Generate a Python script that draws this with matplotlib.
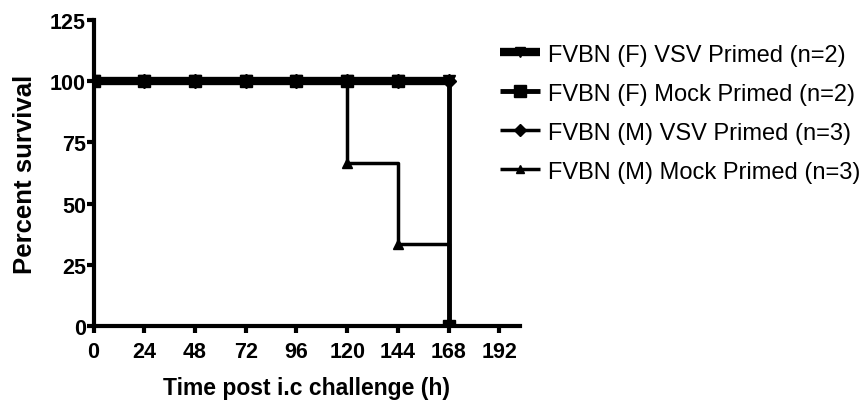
import matplotlib
matplotlib.use('Agg')
import matplotlib.pyplot as plt

hours = [0, 24, 48, 72, 96, 120, 144, 168]
labels = ['FVBN (F) VSV Primed (n=2)', 'FVBN (F) Mock Primed (n=2)',
          'FVBN (M) VSV Primed (n=3)', 'FVBN (M) Mock Primed (n=3)']
f_vsv = [100, 100, 100, 100, 100, 100, 100, 100]
f_mock = [100, 100, 100, 100, 100, 100, 100, 0]
m_vsv = [100, 100, 100, 100, 100, 100, 100, 100]
m_mock = [100, 100, 100, 100, 100, 66.7, 33.3, 0]
xticks = [0, 24, 48, 72, 96, 120, 144, 168, 192]
yticks = [0, 25, 50, 75, 100, 125]

plt.rcParams['font.family'] = ['Liberation Sans', 'DejaVu Sans']

fig = plt.figure(figsize=(8.66, 4.06), dpi=100)
ax = fig.add_axes([0.108, 0.195, 0.493, 0.753])

# (values, marker, line width, marker size)
styles = [
    (f_vsv, 'v', 6, 8),
    (f_mock, 's', 3.5, 9),
    (m_vsv, 'D', 2.5, 7),
    (m_mock, '^', 2.5, 7),
]
for (ys, mk, lw, ms), lab in zip(styles, labels):
    ax.step(hours, ys, where='post', color='black', lw=lw, label=lab,
            marker=mk, markersize=ms, markeredgecolor='black',
            markerfacecolor='black', solid_capstyle='butt')

ax.set_xlim(0, 202)
ax.set_ylim(0, 125)
ax.set_xticks(xticks)
ax.set_yticks(yticks)
ax.spines['top'].set_visible(False)
ax.spines['right'].set_visible(False)
for s in ('left', 'bottom'):
    ax.spines[s].set_linewidth(3)
ax.tick_params(width=3, length=5, labelsize=15.5)
ax.tick_params(axis='x', pad=6)
ax.tick_params(axis='y', pad=0.5)
for t in ax.get_xticklabels() + ax.get_yticklabels():
    t.set_fontweight('bold')

ax.set_xlabel('Time post i.c challenge (h)', fontsize=16.5, fontweight='bold',
              labelpad=10)
ax.set_ylabel('Percent survival', fontsize=18.5, fontweight='bold',
              labelpad=9)

leg = fig.legend(*ax.get_legend_handles_labels(), loc='upper left',
                 bbox_to_anchor=(0.577, 0.89), borderaxespad=0, borderpad=0,
                 frameon=False, fontsize=17, handlelength=1.7,
                 handletextpad=0.34, labelspacing=0.72, markerscale=0.9)

fig.savefig('out.png', dpi=100)
